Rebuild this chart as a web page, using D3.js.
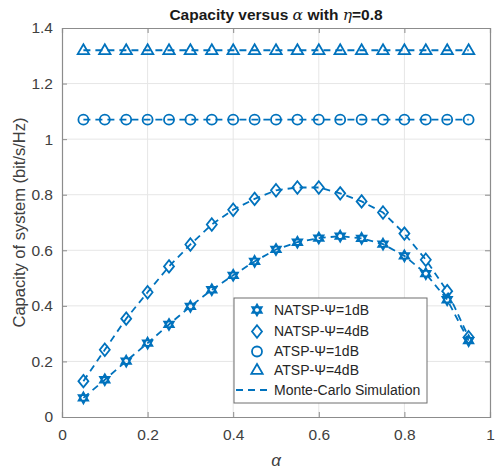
<!DOCTYPE html>
<html>
<head>
<meta charset="utf-8">
<script src="https://d3js.org/d3.v7.min.js"></script>
<style>
  body { margin: 0; background: #fff; }
  text { font-family: Arial, "Liberation Sans", sans-serif; }
</style>
</head>
<body>
<div id="chart"></div>
<script>
// Data
var alpha = [0.05, 0.1, 0.15, 0.2, 0.25, 0.3, 0.35, 0.4, 0.45, 0.5, 0.55, 0.6, 0.65, 0.7, 0.75, 0.8, 0.85, 0.9, 0.95];
var natsp1 = [0.069, 0.134, 0.201, 0.266, 0.333, 0.398, 0.458, 0.51, 0.56, 0.603, 0.629, 0.644, 0.651, 0.643, 0.622, 0.58, 0.516, 0.422, 0.275];
var natsp4 = [0.129, 0.242, 0.354, 0.449, 0.542, 0.621, 0.693, 0.746, 0.785, 0.816, 0.826, 0.826, 0.805, 0.776, 0.736, 0.66, 0.566, 0.453, 0.287];
var atsp1 = [1.07, 1.07, 1.07, 1.07, 1.07, 1.07, 1.07, 1.07, 1.07, 1.07, 1.07, 1.07, 1.07, 1.07, 1.07, 1.07, 1.07, 1.07, 1.07];
var atsp4 = [1.32, 1.32, 1.32, 1.32, 1.32, 1.32, 1.32, 1.32, 1.32, 1.32, 1.32, 1.32, 1.32, 1.32, 1.32, 1.32, 1.32, 1.32, 1.32];
var xTicks = [0, 0.2, 0.4, 0.6, 0.8, 1];
var yTicks = [0, 0.2, 0.4, 0.6, 0.8, 1, 1.2, 1.4];
var legendLabels = ["NATSP-\u03A8=1dB", "NATSP-\u03A8=4dB", "ATSP-\u03A8=1dB", "ATSP-\u03A8=4dB", "Monte-Carlo Simulation"];

var blue = "#0072BD";

var margin = { top: 28, right: 8, bottom: 53, left: 62 },
  width = 498 - margin.left - margin.right,
  height = 470 - margin.top - margin.bottom;

var svgRoot = d3.select("#chart")
  .append("svg")
  .attr("width", 498)
  .attr("height", 470);

var svg = svgRoot.append("g")
  .attr("transform", "translate(" + margin.left + "," + margin.top + ")");

var x = d3.scaleLinear().domain([0, 1]).range([0, width]);
var y = d3.scaleLinear().domain([0, 1.4]).range([height, 0]);

// grid
svg.append("g").selectAll("line").data(xTicks.slice(1, -1)).enter().append("line")
  .attr("x1", function (d) { return x(d); }).attr("x2", function (d) { return x(d); })
  .attr("y1", 0).attr("y2", height)
  .attr("stroke", "#e6e6e6").attr("stroke-width", 1);
svg.append("g").selectAll("line").data(yTicks.slice(1, -1)).enter().append("line")
  .attr("y1", function (d) { return y(d); }).attr("y2", function (d) { return y(d); })
  .attr("x1", 0).attr("x2", width)
  .attr("stroke", "#e6e6e6").attr("stroke-width", 1);

// axes (ticks inward, like MATLAB)
var xAxis = svg.append("g").attr("transform", "translate(0," + height + ")")
  .call(d3.axisBottom(x).tickValues(xTicks).tickSize(-5).tickPadding(12)
    .tickFormat(function (d) { return d3.format("")(d); }));
var yAxis = svg.append("g")
  .call(d3.axisLeft(y).tickValues(yTicks).tickSize(-5).tickPadding(9)
    .tickFormat(function (d) { return d3.format("")(d); }));
var xAxisTop = svg.append("g")
  .call(d3.axisTop(x).tickValues(xTicks).tickSize(-5).tickFormat(""));
var yAxisRight = svg.append("g").attr("transform", "translate(" + width + ",0)")
  .call(d3.axisRight(y).tickValues(yTicks).tickSize(-5).tickFormat(""));

[xAxis, yAxis, xAxisTop, yAxisRight].forEach(function (a) {
  a.selectAll(".domain").attr("stroke", "#8c8c8c").attr("stroke-width", 1.2);
  a.selectAll(".tick line").attr("stroke", "#8c8c8c");
  a.selectAll("text").attr("font-size", 15.5).attr("fill", "#404040");
});

// hexagram marker path
function hexagram(r) {
  var p1 = [], p2 = [];
  for (var i = 0; i < 3; i++) {
    var a1 = -Math.PI / 2 + i * 2 * Math.PI / 3;
    var a2 = Math.PI / 2 + i * 2 * Math.PI / 3;
    p1.push([r * Math.cos(a1), r * Math.sin(a1)]);
    p2.push([r * Math.cos(a2), r * Math.sin(a2)]);
  }
  return "M" + p1.join("L") + "Z M" + p2.join("L") + "Z";
}
function diamond(r) {
  return "M0," + (-r * 1.25) + "L" + r + ",0L0," + (r * 1.25) + "L" + (-r) + ",0Z";
}
function circle(r) {
  return d3.symbol().type(d3.symbolCircle).size(Math.PI * r * r)();
}
function triangle(r) {
  return "M0," + (-r) + "L" + (r * 0.95) + "," + (r * 0.65) + "L" + (-r * 0.95) + "," + (r * 0.65) + "Z";
}

var series = [
  { vals: natsp1, marker: hexagram(5.5) },
  { vals: natsp4, marker: diamond(5) },
  { vals: atsp1, marker: circle(5) },
  { vals: atsp4, marker: triangle(6) }
];

var line = d3.line()
  .x(function (d) { return x(d[0]); })
  .y(function (d) { return y(d[1]); });

// Monte-Carlo simulation dashed lines
series.forEach(function (s) {
  svg.append("path")
    .datum(alpha.map(function (a, i) { return [a, s.vals[i]]; }))
    .attr("d", line)
    .attr("fill", "none")
    .attr("stroke", blue)
    .attr("stroke-width", 1.8)
    .attr("stroke-dasharray", "7,5");
});

// analytical markers
series.forEach(function (s) {
  svg.append("g").selectAll("path")
    .data(alpha.map(function (a, i) { return [a, s.vals[i]]; }))
    .enter().append("path")
    .attr("d", s.marker)
    .attr("transform", function (d) { return "translate(" + x(d[0]) + "," + y(d[1]) + ")"; })
    .attr("fill", "none")
    .attr("stroke", blue)
    .attr("stroke-width", 1.8);
});

// legend
var lg = svg.append("g").attr("transform", "translate(" + (234 - margin.left) + "," + (298 - margin.top) + ")");
lg.append("rect").attr("width", 193).attr("height", 105)
  .attr("fill", "#fff").attr("stroke", "#6e6e6e").attr("stroke-width", 1);
var lgY = [12, 33.5, 53.5, 72, 92];
legendLabels.forEach(function (lbl, i) {
  if (i < 4) {
    lg.append("path").attr("d", series[i].marker)
      .attr("transform", "translate(23," + lgY[i] + ")")
      .attr("fill", "none").attr("stroke", blue).attr("stroke-width", 1.8);
  } else {
    lg.append("line").attr("x1", 2).attr("x2", 38).attr("y1", lgY[i]).attr("y2", lgY[i])
      .attr("stroke", blue).attr("stroke-width", 1.8).attr("stroke-dasharray", "7,5");
  }
  lg.append("text").attr("x", 40).attr("y", lgY[i]).attr("dy", "0.35em")
    .attr("font-size", 14).attr("fill", "#262626").text(lbl);
});

// title
var title = svgRoot.append("text")
  .attr("x", margin.left + width / 2).attr("y", 20)
  .attr("text-anchor", "middle").attr("font-size", 15.5).attr("font-weight", "bold")
  .attr("fill", "#1a1a1a");
title.append("tspan").text("Capacity versus ");
title.append("tspan").attr("font-family", "'DejaVu Serif', serif").attr("font-style", "italic").attr("font-weight", "normal").text("\u03B1");
title.append("tspan").text(" with ");
title.append("tspan").attr("font-family", "'DejaVu Serif', serif").attr("font-style", "italic").attr("font-weight", "normal").text("\u03B7");
title.append("tspan").text("=0.8");

// axis labels
svgRoot.append("text")
  .attr("x", margin.left + width / 2).attr("y", 466)
  .attr("text-anchor", "middle").attr("font-size", 17)
  .attr("font-family", "'DejaVu Serif', serif").attr("font-style", "italic")
  .attr("fill", "#404040").text("\u03B1");

svgRoot.append("text")
  .attr("transform", "translate(25," + (margin.top + height / 2) + ") rotate(-90)")
  .attr("text-anchor", "middle").attr("font-size", 16.5)
  .attr("fill", "#404040").text("Capacity of system (bit/s/Hz)");
</script>
</body>
</html>
